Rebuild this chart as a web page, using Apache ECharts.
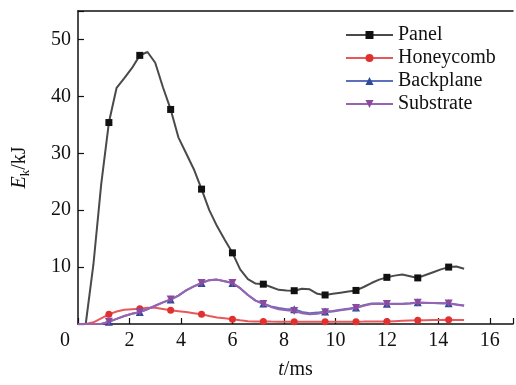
<!DOCTYPE html>
<html>
<head>
<meta charset="utf-8">
<script src="https://cdn.jsdelivr.net/npm/echarts@6/dist/echarts.min.js"></script>
<style>
  html, body { margin: 0; padding: 0; background: #fff; }
  #chart { width: 516px; height: 385px; }
</style>
</head>
<body>
<div id="chart"></div>
<script>
// time base, ms (0.3 ms step)
const times = [
  0, 0.3, 0.6, 0.9, 1.2, 1.5, 1.8, 2.1, 2.4, 2.7, 3.0, 3.3, 3.6, 3.9, 4.2, 4.5, 4.8,
  5.1, 5.4, 5.7, 6.0, 6.3, 6.6, 6.9, 7.2, 7.5, 7.8, 8.1, 8.4, 8.7, 9.0, 9.3, 9.6,
  9.9, 10.2, 10.5, 10.8, 11.1, 11.4, 11.7, 12.0, 12.3, 12.6, 12.9, 13.2, 13.5, 13.8,
  14.1, 14.4, 14.7, 15.0
];

const panel = [
  0, 0, 10.5, 24.5, 35.4, 41.5, 43.2, 45.0, 47.2, 47.8, 45.9, 41.6, 37.7, 32.8, 30.0, 27.2, 23.7,
  20.0, 17.2, 14.8, 12.5, 9.6, 7.9, 7.1, 7.0, 6.5, 6.0, 5.9, 5.85, 6.2, 6.1, 5.3, 5.1,
  5.3, 5.5, 5.7, 5.9, 6.5, 7.2, 7.8, 8.2, 8.5, 8.7, 8.4, 8.1, 8.6, 9.1,
  9.6, 10.0, 10.1, 9.7
];

const honeycomb = [
  0, 0, 0.3, 1.0, 1.7, 2.2, 2.5, 2.6, 2.7, 2.85, 2.85, 2.65, 2.4, 2.25, 2.1, 1.9, 1.7,
  1.4, 1.15, 1.0, 0.85, 0.65, 0.5, 0.45, 0.45, 0.42, 0.4, 0.4, 0.4, 0.4, 0.4, 0.4, 0.4,
  0.4, 0.4, 0.4, 0.4, 0.42, 0.45, 0.45, 0.45, 0.5, 0.55, 0.6, 0.65, 0.65, 0.7,
  0.72, 0.75, 0.72, 0.7
];

const backplane = [
  0, 0, 0, 0, 0.4, 0.9, 1.4, 1.8, 2.1, 2.6, 3.2, 3.8, 4.3, 5.0, 5.9, 6.6, 7.2,
  7.7, 7.8, 7.5, 7.2, 6.3, 5.1, 4.1, 3.6, 3.1, 2.8, 2.6, 2.6, 2.1, 1.9, 2.0, 2.2,
  2.3, 2.5, 2.7, 2.9, 3.3, 3.6, 3.6, 3.55, 3.55, 3.55, 3.65, 3.8, 3.75, 3.7,
  3.65, 3.65, 3.45, 3.25
];

const substrate = [
  0, 0, 0, 0, 0.4, 0.9, 1.4, 1.8, 2.1, 2.6, 3.2, 3.8, 4.3, 5.0, 5.9, 6.6, 7.2,
  7.7, 7.8, 7.5, 7.2, 6.3, 5.1, 4.1, 3.5, 3.0, 2.6, 2.4, 2.3, 1.9, 1.7, 1.8, 2.05,
  2.2, 2.4, 2.6, 2.8, 3.2, 3.5, 3.55, 3.5, 3.5, 3.5, 3.6, 3.75, 3.7, 3.7,
  3.65, 3.6, 3.4, 3.2
];

const seriesNames = ['Panel', 'Honeycomb', 'Backplane', 'Substrate'];
const seriesValues = [panel, honeycomb, backplane, substrate];
const lineColors = ['#4a4a4a', '#e8585a', '#5b70b8', '#9a62b2'];
const markColors = ['#111111', '#e0302f', '#2d4a9e', '#8a4b9e'];
const markShapes = ['rect', 'circle', 'triangle', 'triangle'];
const markRotate = [0, 0, 0, 180];
const markSizes = [7, 7, 8, 8];

const xTicks = [0, 2, 4, 6, 8, 10, 12, 14, 16];
const yTicks = [10, 20, 30, 40, 50];

const font = 'Liberation Serif';

const chart = echarts.init(document.getElementById('chart'));

const option = {
  backgroundColor: '#fff',
  animation: false,
  grid: { left: 78, top: 11, right: 0, bottom: 57 },
  legend: {
    orient: 'vertical',
    left: 345,
    top: 25,
    padding: 0,
    itemWidth: 47,
    itemHeight: 10,
    itemGap: 3,
    textStyle: { fontFamily: font, fontSize: 20, color: '#111', lineHeight: 20, padding: [0, 0, 0, 0] },
    data: seriesNames
  },
  xAxis: [{
    type: 'value',
    min: 0,
    max: 16.9,
    interval: 2,
    name: '{i|t}/ms',
    nameLocation: 'middle',
    nameGap: 36,
    nameTextStyle: {
      fontFamily: font, fontSize: 20, color: '#111',
      rich: { i: { fontFamily: font, fontSize: 20, fontStyle: 'italic', color: '#111' } }
    },
    axisLine: { lineStyle: { color: '#111', width: 1.5 } },
    axisTick: { inside: true, length: 6, lineStyle: { color: '#111', width: 1.2 } },
    axisLabel: {
      fontFamily: font, fontSize: 20, color: '#111', margin: 7,
      formatter: v => xTicks.includes(v) ? (v === 0 ? '{z|0}' : String(v)) : '',
      rich: { z: { fontFamily: font, fontSize: 20, color: '#111', padding: [0, 26, 0, 0] } }
    },
    splitLine: { show: false }
  }, {
    type: 'value',
    position: 'top',
    min: 0,
    max: 16.9,
    axisLine: { show: true, onZero: false, lineStyle: { color: '#111', width: 1.5 } },
    axisTick: { show: false },
    axisLabel: { show: false },
    splitLine: { show: false }
  }],
  yAxis: {
    type: 'value',
    min: 0,
    max: 55,
    interval: 10,
    name: '{i|E}{s|k}{n|/kJ}',
    nameLocation: 'middle',
    nameGap: 46,
    nameTextStyle: {
      rich: {
        i: { fontFamily: font, fontSize: 20, fontStyle: 'italic', color: '#111', lineHeight: 24 },
        s: { fontFamily: font, fontSize: 13, color: '#111', lineHeight: 14, verticalAlign: 'bottom' },
        n: { fontFamily: font, fontSize: 20, color: '#111', lineHeight: 24 }
      }
    },
    axisLine: { show: true, lineStyle: { color: '#111', width: 1.5 } },
    axisTick: { inside: true, length: 6, lineStyle: { color: '#111', width: 1.2 } },
    axisLabel: {
      fontFamily: font, fontSize: 20, color: '#111', margin: 7,
      formatter: v => yTicks.includes(v) ? String(v) : ''
    },
    splitLine: { show: false }
  },
  series: seriesNames.map((name, k) => ({
    name: name,
    type: 'line',
    xAxisIndex: 0,
    data: times.map((t, i) => [t, seriesValues[k][i]]),
    symbol: markShapes[k],
    symbolRotate: markRotate[k],
    symbolSize: (val, p) => (p.dataIndex > 0 && p.dataIndex % 4 === 0 ? markSizes[k] : 0),
    lineStyle: { color: lineColors[k], width: 2 },
    itemStyle: { color: markColors[k] },
    z: 2 + k
  }))
};

chart.setOption(option);
</script>
</body>
</html>
